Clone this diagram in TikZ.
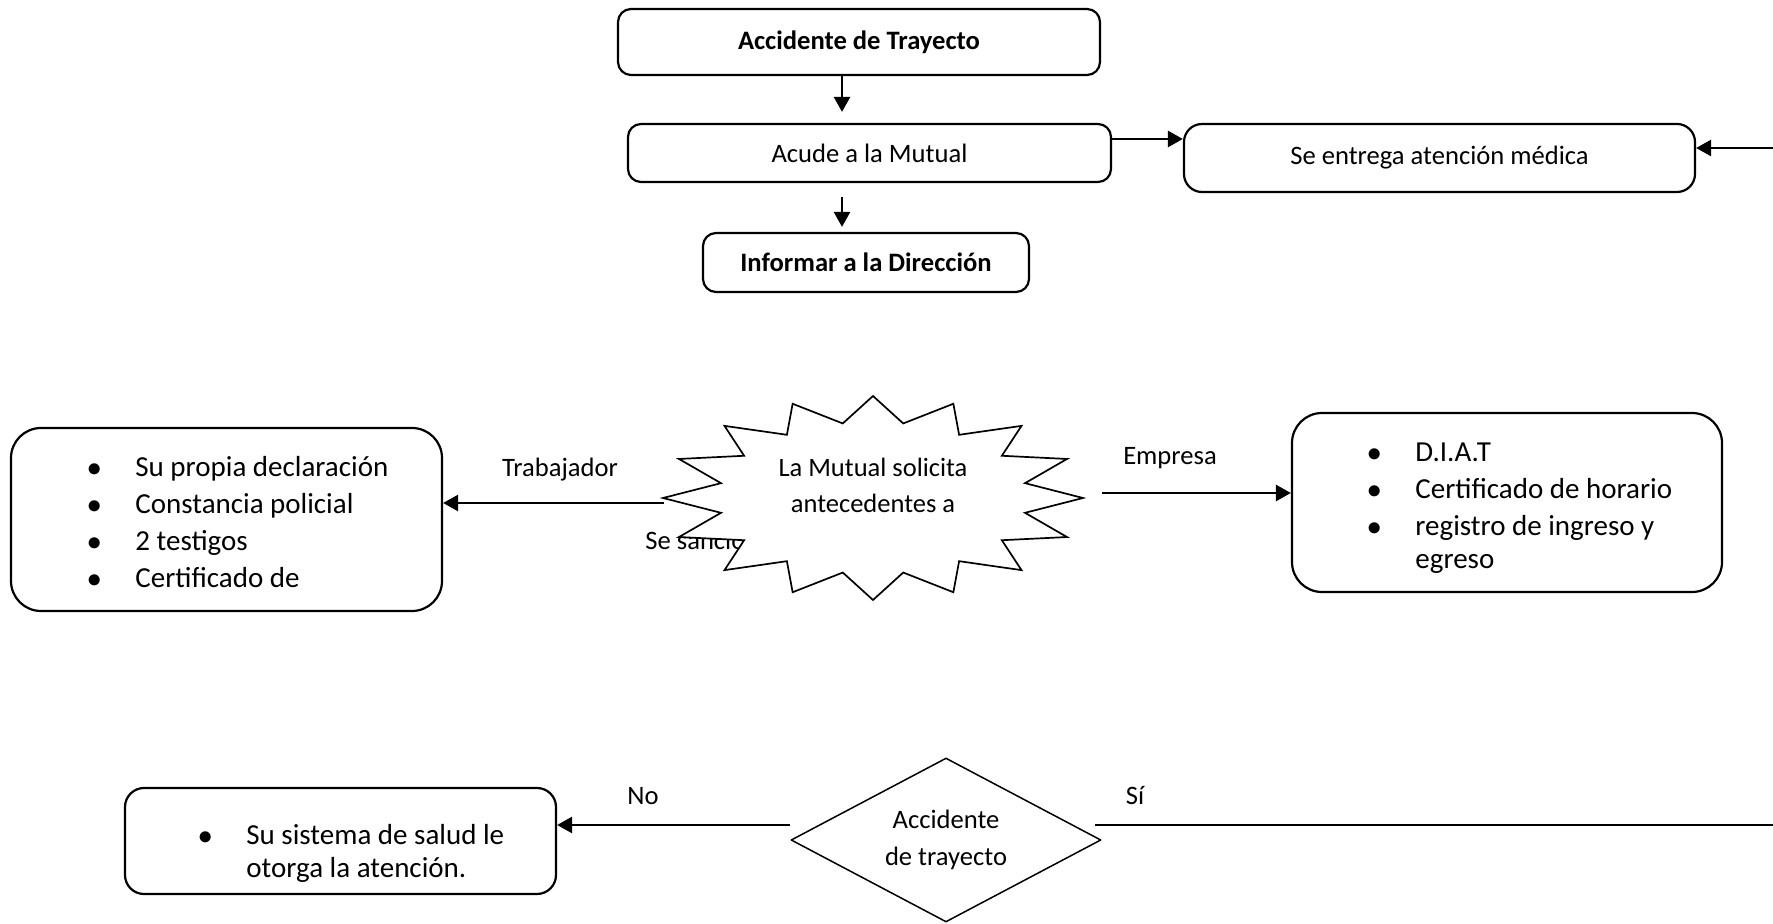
\documentclass[tikz,border=0pt]{standalone}
\usepackage{fontspec}
\setmainfont{Carlito}
\usetikzlibrary{arrows.meta,shapes.geometric}
\newcommand{\vineta}{\makebox[24pt][l]{$\bullet$}}
\newcommand{\sinvineta}{\hspace*{24pt}}

\begin{document}
\begin{tikzpicture}[x=0.5pt, y=-0.5pt, font=\fontsize{13.3pt}{16pt}\selectfont,
    line join=round, >={Triangle[length=7.5pt,width=8pt]},
    caja/.style={draw, line width=1.1pt, rounded corners=6.5pt, inner sep=0pt},
    lista/.style={draw, line width=1.1pt, inner sep=0pt},
    textolista/.style={inner sep=0pt, anchor=west, font=\fontsize{14.5pt}{16.5pt}\selectfont},
    flecha/.style={->, line width=1.3pt},
    etiqueta/.style={inner sep=0pt},
    estrella/.style={draw, fill=white, line width=0.85pt, line join=miter},
    decision/.style={diamond, draw, line width=0.75pt, aspect=1.9, inner sep=0pt,
      minimum width=155pt, minimum height=82pt}]
  \useasboundingbox (0,0) rectangle (1773,924);

  % parte superior
  \node[caja, font=\fontsize{13.3pt}{16pt}\bfseries, minimum width=241pt, minimum height=33pt] (accidente) at (859,42) {Accidente de Trayecto};
  \node[caja, minimum width=241.5pt, minimum height=29pt] (mutual) at (869.5,153) {Acude a la Mutual};
  \node[caja, rounded corners=9pt, minimum width=255.5pt, minimum height=34pt] (atencion) at (1439.5,158) {Se entrega atención médica};
  \node[caja, font=\fontsize{13.3pt}{16pt}\bfseries, minimum width=163pt, minimum height=29.5pt] (direccion) at (866,262.5) {Informar a la Dirección};

  \coordinate (eje) at (842,0);
  \coordinate (bordeA) at (1773,148);
  \draw[flecha, shorten >=5.5pt] (eje |- accidente.south) -- (eje |- mutual.north);
  \draw[flecha, shorten <=7pt, shorten >=2.5pt] (eje |- mutual.south) -- (eje |- direccion.north);
  \draw[flecha] ([yshift=7pt]mutual.east) -- ([yshift=7pt]mutual.east -| atencion.west);
  \draw[flecha] (bordeA) -- (bordeA -| atencion.east);

  % antecedentes
  \node[lista, rounded corners=15pt, minimum width=215.5pt, minimum height=91.5pt] (trab) at (226.5,519.5) {};
  \node[textolista] (trabtxt) at (87,525.7) {\begin{tabular}{@{}l@{}}
      \vineta Su propia declaración\\[2pt]
      \vineta Constancia policial\\[2pt]
      \vineta 2 testigos\\[2pt]
      \vineta Certificado de
    \end{tabular}};

  \node[lista, rounded corners=15pt, minimum width=215pt, minimum height=89.5pt] (emp) at (1507,502.5) {};
  \begin{scope}
    \clip (1292,413) rectangle (1722,574);
    \node[textolista] (emptxt) at (1367,508.9) {\begin{tabular}{@{}l@{}}
        \vineta D.I.A.T\\[2pt]
        \vineta Certificado de horario\\[2pt]
        \vineta registro de ingreso y\\
        \sinvineta egreso
      \end{tabular}};
  \end{scope}

  \coordinate (estrella) at (873,498);
  \coordinate (puntaO) at (664,503);
  \coordinate (puntaE) at (1102,493);
  \draw[flecha] (puntaO) -- (puntaO -| trab.east);
  \draw[flecha] (puntaE) -- (puntaE -| emp.west);
  \node[etiqueta, anchor=base] (trabajador) at (560,477) {Trabajador};
  \node[etiqueta, anchor=base] (empresa) at (1170,465) {Empresa};
  \node[etiqueta, anchor=base west] (sancion) at (645,550) {Se sancio};

  \draw[estrella] (1083,498) \foreach \k in {1,...,16} {
      -- ({873+155*cos(22.5*\k-11.25)},{498+76*sin(22.5*\k-11.25)})
      -- ({873+210*cos(22.5*\k)},{498+102*sin(22.5*\k)})
    } -- cycle;
  \node[etiqueta] (solicita) at (873,487.8) {\fontsize{13.25pt}{18pt}\selectfont
    \begin{tabular}{@{}c@{}}La Mutual solicita\\antecedentes a\end{tabular}};

  % decision
  \node[lista, rounded corners=9.5pt, minimum width=215.5pt, minimum height=53pt] (salud) at (340.5,841) {};
  \node[textolista] (saludtxt) at (198,853.9) {\begin{tabular}{@{}l@{}}
      \vineta Su sistema de salud le\\
      \sinvineta otorga la atención.
    \end{tabular}};

  \node[decision] (tray) at (946,840) {\fontsize{13.3pt}{18.5pt}\selectfont
    \begin{tabular}{@{}c@{}}Accidente\\de trayecto\end{tabular}};
  \coordinate (bordeB) at (1773,825);
  \draw[flecha] ([yshift=7.5pt]tray.west) -- ([yshift=7.5pt]tray.west -| salud.east);
  \draw[line width=1.1pt] ([xshift=-3.5pt,yshift=7.5pt]tray.east) -- (bordeB);
  \node[etiqueta, anchor=base] (no) at (643,805) {No};
  \node[etiqueta, anchor=base] (si) at (1135,805) {Sí};
\end{tikzpicture}
\end{document}
